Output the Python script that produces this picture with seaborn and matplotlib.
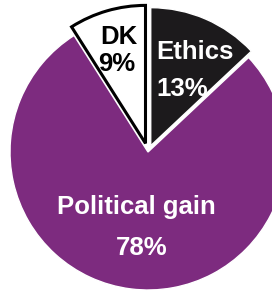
import matplotlib
matplotlib.use("Agg")
import matplotlib.pyplot as plt
import seaborn as sns

# slices, clockwise from 12 o'clock
labels = ["Ethics", "Political gain", "DK"]
values = [13, 78, 9]
colors = ["#1c1a1c", "#7d2b7f", "#ffffff"]
explode = [0.05, 0.0, 0.065]

sns.set_theme(style="white")
plt.rcParams['font.family'] = ['Liberation Sans', 'DejaVu Sans']

fig = plt.figure(figsize=(2.72, 2.94), dpi=100)
ax = fig.add_axes([0, 0, 1, 1])

wedges, _ = ax.pie(values, colors=colors, explode=explode, startangle=90,
                   counterclock=False, radius=1.0,
                   wedgeprops=dict(edgecolor="white", linewidth=1))
wedges[2].set_edgecolor("black")
wedges[2].set_linewidth(2.2)
for w in wedges:
    w.set_clip_on(False)

# 138 px per unit, centre at (148, 152) px
ax.set_xlim(-148 / 138, (272 - 148) / 138)
ax.set_ylim(-(294 - 152) / 138, 152 / 138)
ax.set_aspect("auto")
ax.axis("off")

def px(x, y):
    return x / 272, 1 - y / 294

kw = dict(fontsize=18.5, fontweight="bold", va="center")
fig.text(*px(119, 37), "DK", color="black", ha="center", **kw)
fig.text(*px(117, 64), "9%", color="black", ha="center", **kw)
fig.text(*px(156, 52), "Ethics", color="white", ha="left", **kw)
fig.text(*px(156, 89), "13%", color="white", ha="left", **kw)
fig.text(*px(136, 207), "Political gain", color="white", ha="center", **kw)
fig.text(*px(142, 248), "78%", color="white", ha="center", **kw)

fig.savefig("out.png", dpi=100, facecolor="white")
